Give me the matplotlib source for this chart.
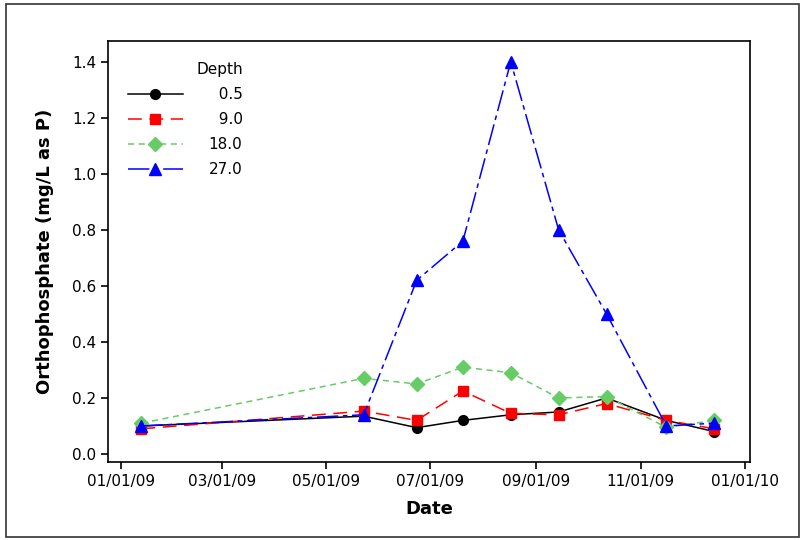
import numpy as np
import pandas as pd
import matplotlib
matplotlib.use("Agg")
import matplotlib.pyplot as plt
import matplotlib.dates as mdates

# dates de prélèvement
dates = pd.to_datetime(["2009-01-13", "2009-05-23", "2009-06-23", "2009-07-20",
                        "2009-08-17", "2009-09-14", "2009-10-12", "2009-11-16",
                        "2009-12-14"])

depth_05 = [0.10, 0.135, 0.094, 0.12, 0.14, 0.15, 0.20, 0.12, 0.08]
depth_9 = [0.09, 0.153, 0.12, 0.225, 0.145, 0.14, 0.18, 0.12, 0.09]
depth_18 = [0.11, 0.27, 0.25, 0.31, 0.29, 0.20, 0.205, 0.095, 0.12]
depth_27 = [0.10, 0.14, 0.62, 0.76, 1.40, 0.80, 0.50, 0.10, 0.11]

# espace "figure" (U+2007) pour aligner les étiquettes à droite
labels = ["\u20070.5", "\u20079.0", "18.0", "27.0"]
y_ticks = [0.0, 0.2, 0.4, 0.6, 0.8, 1.0, 1.2, 1.4]
x_ticks = pd.to_datetime(["2009-01-01", "2009-03-01", "2009-05-01", "2009-07-01",
                          "2009-09-01", "2009-11-01", "2010-01-01"])

plt.rcParams['font.family'] = ['DejaVu Sans']

fig = plt.figure(figsize=(8.01, 5.40), dpi=100)
# cadre autour de la figure
fig.patches.append(plt.Rectangle((0.008, 0.005), 0.99, 0.988, transform=fig.transFigure,
                                 fill=False, edgecolor='#333333', linewidth=1.2))
ax = fig.add_axes([0.1348, 0.145, 0.8015, 0.779])

ax.plot(dates, depth_05, color='black', linestyle='-', marker='o', markersize=7, linewidth=1.1, label=labels[0])
ax.plot(dates, depth_9, color='#ff0000', linestyle=(0, (9, 5)), marker='s', markersize=7, linewidth=1.1, label=labels[1])
ax.plot(dates, depth_18, color='#66cc66', linestyle=(0, (4, 3)), marker='D', markersize=7, linewidth=1.1, label=labels[2])
ax.plot(dates, depth_27, color='#0000ff', linestyle=(0, (14, 3, 3, 3)), marker='^', markersize=8, linewidth=1.1, label=labels[3])

ax.set_xlim(pd.Timestamp("2008-12-24 10:00"), pd.Timestamp("2010-01-03 22:00"))
ax.set_ylim(-0.0275, 1.474)
ax.set_xticks(x_ticks)
ax.xaxis.set_major_formatter(mdates.DateFormatter('%m/%d/%y'))
ax.set_yticks(y_ticks)
ax.yaxis.set_major_formatter(matplotlib.ticker.FormatStrFormatter('%.1f'))
ax.tick_params(labelsize=11, length=5, width=1.2, direction='out')
for s in ax.spines.values():
    s.set_linewidth(1.2)

ax.set_xlabel('Date', fontsize=13, fontweight='bold', labelpad=8)
ax.set_ylabel('Orthophosphate (mg/L as P)', fontsize=13, fontweight='bold', labelpad=13)

leg = ax.legend(title='Depth', loc='upper left', frameon=False, fontsize=11, title_fontsize=11,
                handlelength=3.6, labelspacing=0.66, borderaxespad=0.9, handletextpad=1.7,
                alignment='right', bbox_to_anchor=(0.0, 0.997))

fig.savefig('out.png', dpi=100)
